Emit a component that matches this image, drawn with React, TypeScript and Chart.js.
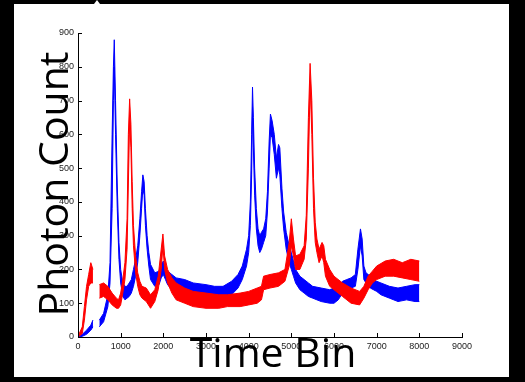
import React, { useEffect, useRef } from "react";
import { Chart, registerables } from "chart.js";

Chart.register(...registerables);

// ---- data ----
const xTicks = [0, 1000, 2000, 3000, 4000, 5000, 6000, 7000, 8000, 9000];
const yTicks = [0, 100, 200, 300, 400, 500, 600, 700, 800, 900];

const blueX = [0, 100, 200, 300, 350, 420, 500, 600, 700, 750, 800, 830, 850, 880, 920, 960, 1000, 1050, 1100, 1150, 1200, 1250, 1300, 1350, 1400, 1450, 1490, 1520, 1550, 1580, 1620, 1660, 1700, 1800, 1900, 1950, 2000, 2050, 2100, 2200, 2300, 2500, 2700, 3000, 3200, 3400, 3600, 3750, 3850, 3950, 4000, 4040, 4070, 4090, 4110, 4140, 4180, 4220, 4260, 4300, 4350, 4400, 4440, 4480, 4510, 4550, 4600, 4650, 4700, 4730, 4780, 4820, 4880, 4950, 5000, 5050, 5100, 5200, 5300, 5400, 5500, 5700, 5900, 6000, 6100, 6200, 6300, 6400, 6500, 6560, 6620, 6660, 6700, 6750, 6850, 7000, 7100, 7300, 7500, 7700, 7900, 8000];
const blueLo = [0, 2, 8, 20, 30, null, 30, 45, 90, 160, 380, 700, 800, 600, 380, 230, 160, 120, 110, 115, 120, 130, 150, 180, 220, 300, 380, 440, 420, 330, 260, 210, 170, 150, 155, 175, 185, 170, 155, 140, 130, 125, 120, 115, 110, 115, 125, 145, 170, 210, 250, 330, 480, 680, 560, 420, 320, 270, 250, 260, 280, 300, 370, 500, 600, 590, 540, 470, 500, 480, 380, 320, 260, 220, 200, 180, 160, 140, 130, 120, 115, 105, 100, 100, 110, 130, 140, 145, 150, 200, 270, 240, 170, 160, 145, 135, 125, 115, 105, 110, 105, 105];
const blueHi = [2, 8, 20, 35, 50, null, 50, 70, 125, 220, 600, 800, 880, 700, 450, 280, 200, 160, 150, 150, 160, 170, 200, 230, 270, 350, 430, 480, 460, 380, 300, 250, 215, 190, 195, 215, 225, 205, 195, 185, 175, 170, 160, 155, 150, 150, 165, 185, 210, 260, 300, 400, 600, 740, 650, 500, 380, 320, 300, 310, 320, 350, 430, 580, 660, 640, 600, 530, 570, 560, 440, 370, 310, 270, 250, 225, 200, 180, 170, 160, 150, 145, 140, 145, 150, 165, 170, 175, 185, 260, 320, 290, 210, 190, 180, 165, 160, 150, 145, 150, 155, 155];

const redX = [0, 100, 150, 200, 250, 300, 350, 420, 500, 600, 700, 800, 900, 950, 1000, 1050, 1100, 1150, 1180, 1210, 1240, 1270, 1300, 1350, 1400, 1450, 1500, 1600, 1700, 1800, 1880, 1950, 1990, 2030, 2100, 2200, 2300, 2500, 2700, 3000, 3300, 3500, 3800, 4000, 4200, 4300, 4350, 4500, 4700, 4850, 4950, 5000, 5050, 5100, 5200, 5300, 5350, 5400, 5440, 5480, 5520, 5560, 5600, 5650, 5720, 5760, 5800, 5900, 6000, 6200, 6400, 6600, 6700, 6800, 6900, 7000, 7200, 7400, 7600, 7800, 8000];
const redLo = [0, 10, 50, 110, 150, 160, 160, null, 115, 120, 110, 95, 85, 85, 95, 130, 170, 260, 450, 640, 560, 380, 270, 190, 150, 125, 115, 105, 85, 105, 140, 200, 270, 200, 160, 130, 110, 100, 90, 85, 85, 90, 90, 95, 100, 110, 140, 145, 150, 165, 210, 270, 240, 200, 200, 230, 290, 500, 750, 600, 380, 280, 250, 220, 240, 220, 180, 150, 140, 120, 100, 95, 115, 140, 160, 170, 180, 180, 175, 170, 165];
const redHi = [2, 30, 90, 150, 185, 220, 200, null, 155, 160, 150, 130, 115, 110, 130, 170, 220, 350, 600, 705, 630, 460, 330, 240, 190, 165, 150, 145, 125, 140, 180, 260, 305, 240, 200, 175, 160, 145, 135, 130, 125, 125, 130, 135, 145, 150, 180, 185, 190, 200, 280, 350, 290, 240, 245, 270, 360, 650, 810, 700, 470, 340, 290, 260, 280, 270, 230, 200, 180, 160, 145, 135, 150, 180, 195, 210, 225, 230, 220, 230, 225];

const RED = "#ff0000";
const BLUE = "#0000ff";

function pts(xs: number[], ys: (number | null)[]) {
  return xs.map((x, i) => ({ x, y: ys[i] }));
}

const framePlugin = {
  id: "frame",
  beforeDraw(chart: any) {
    const ctx = chart.ctx;
    ctx.save();
    ctx.fillStyle = "#000";
    ctx.fillRect(0, 0, chart.width, chart.height);
    ctx.fillStyle = "#fff";
    ctx.fillRect(14, 4, 495, 373);
    ctx.beginPath();
    ctx.moveTo(94, 4);
    ctx.lineTo(97, 0);
    ctx.lineTo(100, 4);
    ctx.closePath();
    ctx.fill();
    ctx.restore();
  },
  afterDraw(chart: any) {
    const ctx = chart.ctx;
    const xs = chart.scales.x;
    const ys = chart.scales.y;
    const area = chart.chartArea;
    ctx.save();
    ctx.strokeStyle = "#000";
    ctx.lineWidth = 1;
    ctx.beginPath();
    xTicks.forEach((v) => {
      const px = Math.round(xs.getPixelForValue(v)) + 0.5;
      ctx.moveTo(px, area.bottom);
      ctx.lineTo(px, area.bottom - 4);
    });
    yTicks.forEach((v) => {
      const py = Math.round(ys.getPixelForValue(v)) + 0.5;
      ctx.moveTo(area.left, py);
      ctx.lineTo(area.left + 4, py);
    });
    ctx.stroke();

    ctx.fillStyle = "#000";
    ctx.font = '41px "Open Sans"';
    ctx.textAlign = "center";
    ctx.textBaseline = "alphabetic";
    ctx.fillText("Time Bin", 273, 367);
    ctx.translate(68, 184);
    ctx.rotate(-Math.PI / 2);
    ctx.fillText("Photon Count", 0, 0);
    ctx.restore();
  },
};

export default function App() {
  const ref = useRef<HTMLCanvasElement | null>(null);
  useEffect(() => {
    if (!ref.current) return;
    const tickFont = { family: '"Liberation Sans", Arial, sans-serif', size: 9 };
    const fmt = (v: any) => String(v);
    const chart = new Chart(ref.current, {
      type: "line",
      data: {
        datasets: [
          { data: pts(redX, redHi), borderColor: RED, backgroundColor: RED, borderWidth: 1, pointRadius: 0, fill: "+1", spanGaps: false },
          { data: pts(redX, redLo), borderColor: RED, backgroundColor: RED, borderWidth: 1, pointRadius: 0, fill: false, spanGaps: false },
          { data: pts(blueX, blueHi), borderColor: BLUE, backgroundColor: BLUE, borderWidth: 1, pointRadius: 0, fill: "+1", spanGaps: false },
          { data: pts(blueX, blueLo), borderColor: BLUE, backgroundColor: BLUE, borderWidth: 1, pointRadius: 0, fill: false, spanGaps: false },
        ],
      },
      options: {
        animation: false,
        responsive: false,
        devicePixelRatio: 1,
        parsing: false as any,
        layout: { padding: { left: 58, top: 33, right: 63, bottom: 25 } },
        plugins: { legend: { display: false }, tooltip: { enabled: false } },
        elements: { line: { tension: 0 } },
        scales: {
          x: {
            type: "linear",
            min: 0,
            max: 9000,
            afterFit: (s: any) => { s.height = 20; },
            afterBuildTicks: (s: any) => { s.ticks = xTicks.map((v) => ({ value: v })); },
            ticks: { font: tickFont, color: "#222", padding: 4, maxRotation: 0, autoSkip: false, callback: fmt },
            grid: { display: true, drawOnChartArea: false, drawTicks: false },
            border: { display: true, color: "#000", width: 1 },
          },
          y: {
            type: "linear",
            min: 0,
            max: 900,
            afterFit: (s: any) => { s.width = 20; },
            afterBuildTicks: (s: any) => { s.ticks = yTicks.map((v) => ({ value: v })); },
            ticks: { font: tickFont, color: "#222", padding: 4, autoSkip: false, callback: fmt },
            grid: { display: true, drawOnChartArea: false, drawTicks: false },
            border: { display: true, color: "#000", width: 1 },
          },
        },
      },
      plugins: [framePlugin],
    });
    return () => chart.destroy();
  }, []);
  return (
    <div style={{ position: "fixed", left: 0, top: 0, width: 525, height: 382, background: "#000" }}>
      <canvas ref={ref} width={525} height={382} style={{ display: "block", width: 525, height: 382 }} />
    </div>
  );
}
